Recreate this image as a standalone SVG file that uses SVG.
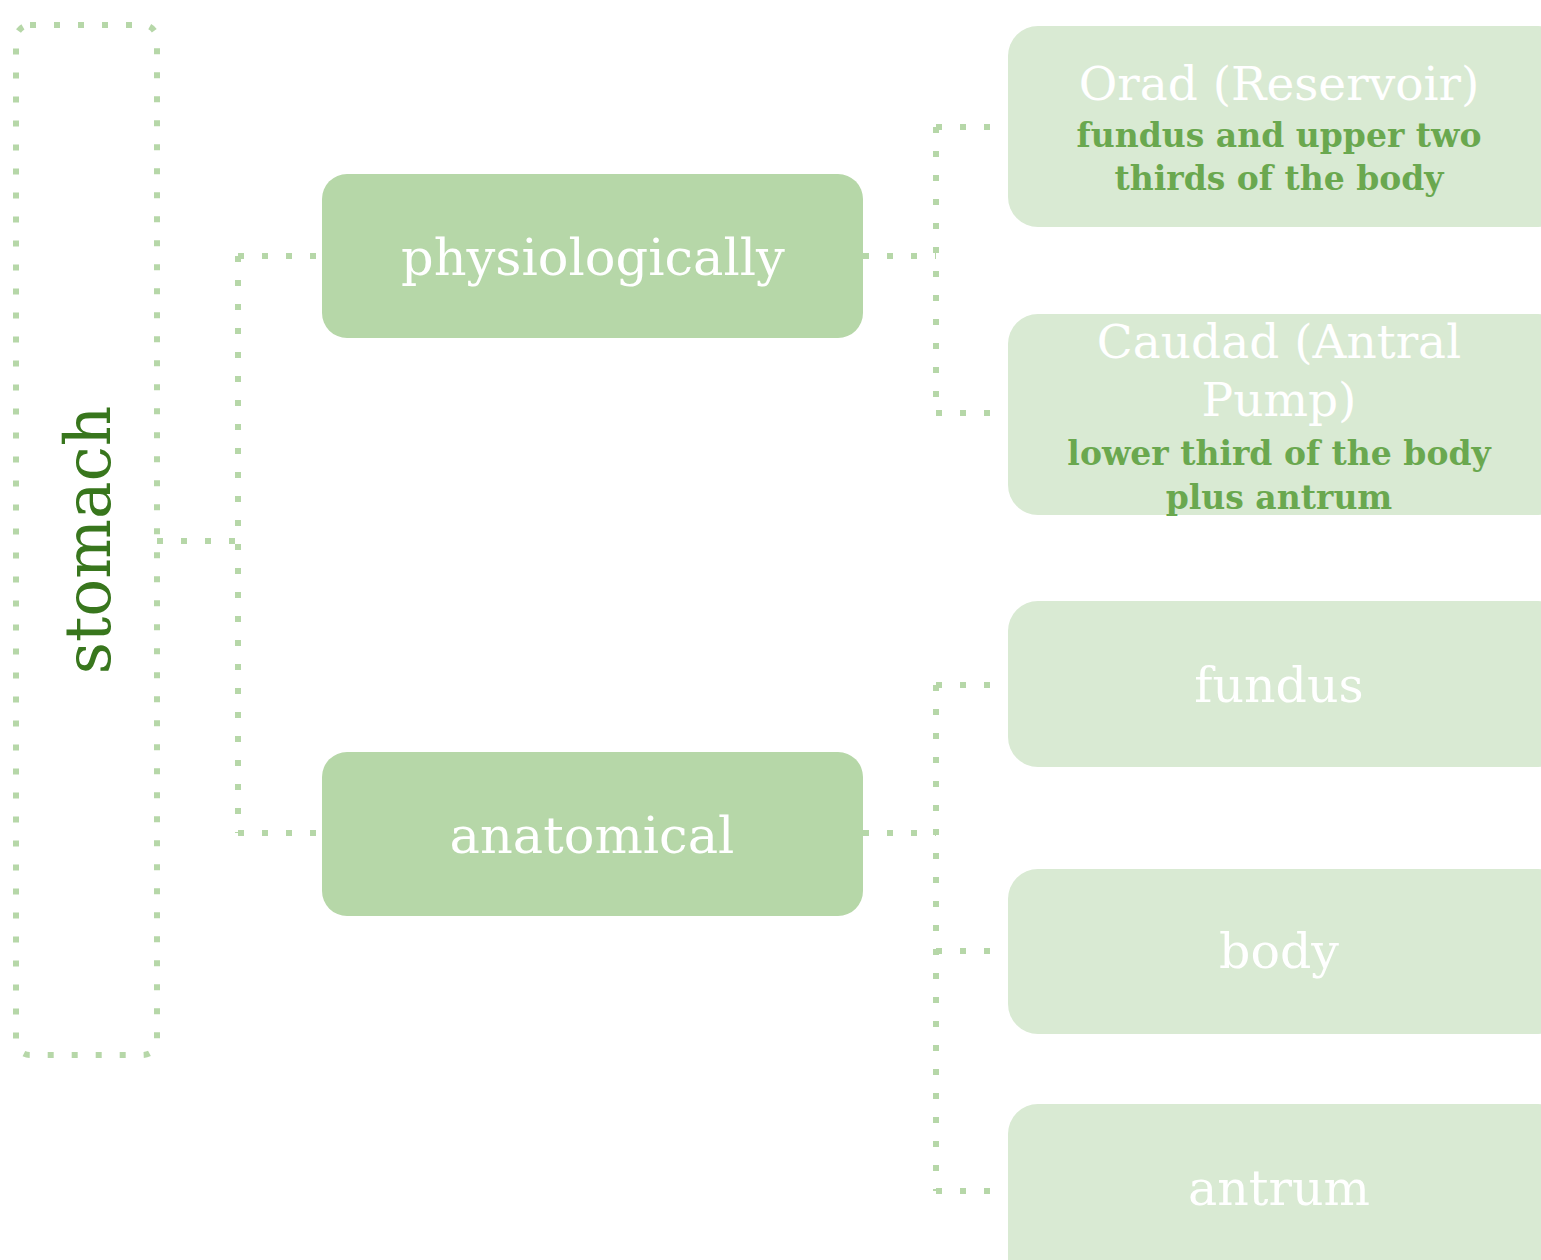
<svg xmlns="http://www.w3.org/2000/svg" width="1541" height="1260" viewBox="0 0 1541 1260">
<style>
.dot{fill:none;stroke:#b6d7a8;stroke-width:6;stroke-dasharray:6 18}
.mid{fill:#b6d7a8}
.leaf{fill:#d9ead3}
.t{font-family:"DejaVu Serif","Liberation Serif",serif;text-anchor:middle;fill:#ffffff}
.s{font-family:"DejaVu Serif","Liberation Serif",serif;text-anchor:middle;fill:#6aa84f;font-weight:bold}
</style>
<g id="connectors">
<path class="dot" d="M157 541 H238 M238 256 V833 M238 256 H322 M238 833 H322"/>
<path class="dot" d="M863 256 H936 M936 127 V413 M936 127 H1008 M936 413 H1008"/>
<path class="dot" d="M863 833 H936 M936 685 V1191 M936 685 H1008 M936 951 H1008 M936 1191 H1008"/>
</g>
<g id="stomach">
<rect class="dot" x="16" y="25" width="141" height="1030" rx="14"/>
<text x="0" y="0" transform="translate(110 540) rotate(-90)" font-family="DejaVu Serif, Liberation Serif, serif" font-size="63" fill="#38761d" text-anchor="middle">stomach</text>
</g>
<g id="physiologically">
<rect class="mid" x="322" y="174" width="541" height="164" rx="25"/>
<text class="t" x="593" y="275" font-size="51">physiologically</text>
</g>
<g id="anatomical">
<rect class="mid" x="322" y="752" width="541" height="164" rx="25"/>
<text class="t" x="592" y="853" font-size="51">anatomical</text>
</g>
<g id="orad">
<rect class="leaf" x="1008" y="26" width="560" height="201" rx="30"/>
<text class="t" x="1279" y="100" font-size="47">Orad (Reservoir)</text>
<text class="s" x="1279" y="147" font-size="33">fundus and upper two</text>
<text class="s" x="1279" y="190" font-size="33">thirds of the body</text>
</g>
<g id="caudad">
<rect class="leaf" x="1008" y="314" width="560" height="201" rx="30"/>
<text class="t" x="1279" y="358" font-size="47">Caudad (Antral</text>
<text class="t" x="1279" y="416" font-size="47">Pump)</text>
<text class="s" x="1279" y="465" font-size="33">lower third of the body</text>
<text class="s" x="1279" y="509" font-size="33">plus antrum</text>
</g>
<g id="fundus">
<rect class="leaf" x="1008" y="601" width="560" height="166" rx="30"/>
<text class="t" x="1279" y="702" font-size="49">fundus</text>
</g>
<g id="body">
<rect class="leaf" x="1008" y="869" width="560" height="165" rx="30"/>
<text class="t" x="1279" y="968" font-size="49">body</text>
</g>
<g id="antrum">
<rect class="leaf" x="1008" y="1104" width="560" height="190" rx="30"/>
<text class="t" x="1279" y="1205" font-size="49">antrum</text>
</g>
</svg>
